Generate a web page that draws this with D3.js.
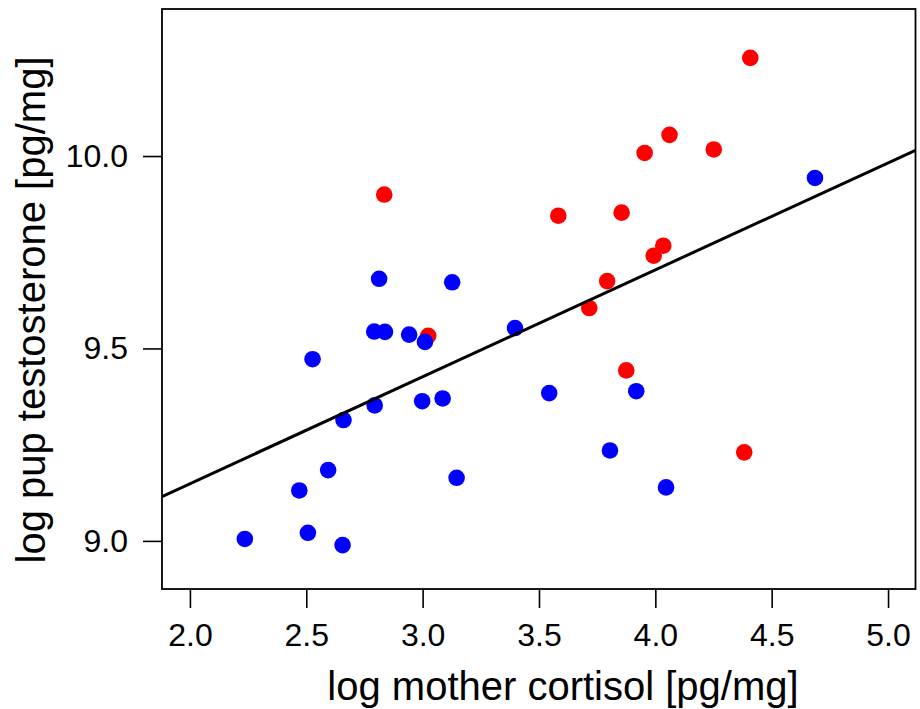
<!DOCTYPE html>
<html>
<head>
<meta charset="utf-8">
<script src="https://cdn.jsdelivr.net/npm/d3@7"></script>
<style>
  html, body { margin: 0; padding: 0; background: #fff; }
  svg { display: block; font-family: "Liberation Sans", Arial, Helvetica, sans-serif; }
</style>
</head>
<body>
<div id="chart"></div>
<script>
'use strict';
// values
const blueCortisol = [2.813, 3.127, 2.792, 2.838, 2.942, 3.010, 3.397, 2.527, 2.794, 2.998, 3.086, 2.660,
                      2.594, 2.470, 3.146, 2.236, 2.507, 2.656, 3.544, 3.805, 3.918, 4.046, 4.686];
const blueTestosterone = [9.681, 9.672, 9.544, 9.543, 9.536, 9.517, 9.553, 9.472, 9.352, 9.363, 9.370, 9.314,
                          9.184, 9.131, 9.164, 9.005, 9.021, 8.989, 9.384, 9.235, 9.389, 9.139, 9.943];
const redCortisol = [3.024, 4.408, 4.061, 3.954, 4.251, 3.583, 3.855, 4.034, 3.993, 3.793, 3.716, 3.875, 4.382, 2.835];
const redTestosterone = [9.533, 10.255, 10.055, 10.008, 10.017, 9.845, 9.853, 9.767, 9.741, 9.675, 9.605, 9.443, 9.230, 9.900];
// regression line y = a + b x
const fitIntercept = 8.593;
const fitSlope = 0.2778;
const xTicks = [2.0, 2.5, 3.0, 3.5, 4.0, 4.5, 5.0];
const yTicks = [9.0, 9.5, 10.0];
const xTitle = "log mother cortisol [pg/mg]";
const yTitle = "log pup testosterone [pg/mg]";

const width = 920, height = 709;
const box = { left: 162, right: 915.5, top: 9, bottom: 589 };

const x = d3.scaleLinear().domain([1.88, 5.118]).range([box.left, box.right]);
const y = d3.scaleLinear().domain([8.875, 10.382]).range([box.bottom, box.top]);

const svg = d3.select("#chart").append("svg")
    .attr("width", width)
    .attr("height", height)
    .attr("viewBox", [0, 0, width, height]);

svg.append("defs").append("clipPath")
    .attr("id", "plot-clip")
    .append("rect")
    .attr("x", box.left).attr("y", box.top)
    .attr("width", box.right - box.left).attr("height", box.bottom - box.top);

// points: red first, blue on top
const pts = svg.append("g");
pts.selectAll("circle.red")
    .data(d3.zip(redCortisol, redTestosterone))
    .join("circle")
    .attr("class", "red")
    .attr("cx", d => x(d[0]))
    .attr("cy", d => y(d[1]))
    .attr("r", 8.3)
    .attr("fill", "#ff0000");
pts.selectAll("circle.blue")
    .data(d3.zip(blueCortisol, blueTestosterone))
    .join("circle")
    .attr("class", "blue")
    .attr("cx", d => x(d[0]))
    .attr("cy", d => y(d[1]))
    .attr("r", 8.3)
    .attr("fill", "#0000ff");

// fitted line, clipped to the box like abline
const xd = x.domain();
svg.append("line")
    .attr("clip-path", "url(#plot-clip)")
    .attr("x1", x(xd[0])).attr("y1", y(fitIntercept + fitSlope * xd[0]))
    .attr("x2", x(xd[1])).attr("y2", y(fitIntercept + fitSlope * xd[1]))
    .attr("stroke", "#000")
    .attr("stroke-width", 3);

// axes
const xAxis = svg.append("g")
    .attr("transform", `translate(0,${box.bottom})`)
    .call(d3.axisBottom(x).tickValues(xTicks).tickFormat(d3.format(".1f")).tickSize(19).tickPadding(15).tickSizeOuter(0));
const yAxis = svg.append("g")
    .attr("transform", `translate(${box.left},0)`)
    .call(d3.axisLeft(y).tickValues(yTicks).tickFormat(d3.format(".1f")).tickSize(19).tickPadding(15).tickSizeOuter(0));
[xAxis, yAxis].forEach(g => {
    g.select(".domain").remove();
    g.selectAll(".tick line").attr("stroke", "#000").attr("stroke-width", 1.6);
    g.selectAll(".tick text")
        .attr("fill", "#000")
        .attr("font-size", 32)
        .attr("font-family", "\"Liberation Sans\", Arial, Helvetica, sans-serif");
});

// box
svg.append("rect")
    .attr("x", box.left).attr("y", box.top)
    .attr("width", box.right - box.left).attr("height", box.bottom - box.top)
    .attr("fill", "none")
    .attr("stroke", "#000")
    .attr("stroke-width", 1.8);

// titles
svg.append("text")
    .attr("x", 563).attr("y", 700)
    .attr("text-anchor", "middle")
    .attr("font-size", 40)
    .attr("fill", "#000")
    .text(xTitle);
svg.append("text")
    .attr("transform", "translate(45,310) rotate(-90)")
    .attr("text-anchor", "middle")
    .attr("font-size", 40)
    .attr("fill", "#000")
    .text(yTitle);
</script>
</body>
</html>
